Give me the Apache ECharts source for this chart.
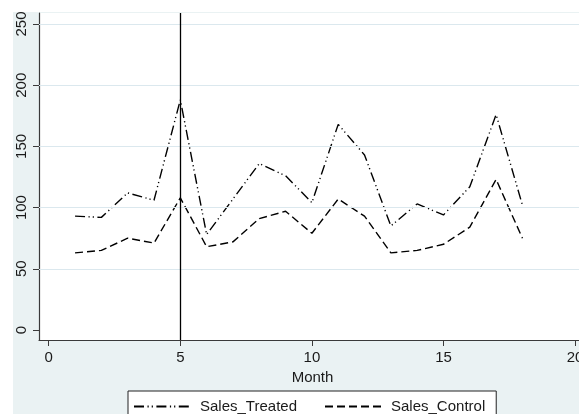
<!DOCTYPE html>
<html>
<head>
<meta charset="utf-8">
<script src="https://cdn.jsdelivr.net/npm/echarts@6/dist/echarts.min.js"></script>
<style>
  html, body { margin: 0; padding: 0; background: #ffffff; }
  #wrap { position: relative; width: 579px; height: 414px; overflow: hidden; background: #ffffff; }
  #chart { position: absolute; left: 13px; top: 12px; width: 566px; height: 402px; background: #eaf2f3; }
</style>
</head>
<body>
<div id="wrap"><div id="chart"></div></div>
<script>
// Monthly sales for the treated and control groups
const months = [1, 2, 3, 4, 5, 6, 7, 8, 9, 10, 11, 12, 13, 14, 15, 16, 17, 18];
const salesTreated = [93, 92, 112, 106, 188, 78, 107, 136, 126, 104, 168, 143, 85, 103, 94, 117, 176, 102];
const salesControl = [63, 65, 75, 71, 108, 68, 72, 91, 97, 79, 107, 93, 63, 65, 70, 84, 123, 75];
const xTicks = [0, 5, 10, 15, 20];
const yTicks = [0, 50, 100, 150, 200, 250];
const yGrid = [50, 100, 150, 200, 250];
const interventionMonth = 5;

const font = "'Liberation Sans', Arial, sans-serif";
const textColor = '#1a1a1a';
const axisColor = '#3a3a3a';

const pair = (xs, ys) => xs.map((x, i) => [x, ys[i]]);

const chart = echarts.init(document.getElementById('chart'), null, { renderer: 'canvas' });
chart.setOption({
  animation: false,
  backgroundColor: 'transparent',
  textStyle: { fontFamily: font },
  grid: {
    left: 26, top: 1, right: 0, bottom: 74,
    outerBoundsMode: 'none',
    containLabel: false,
    show: true, backgroundColor: '#ffffff', borderWidth: 0
  },
  xAxis: {
    type: 'value',
    min: -0.37, max: 20.15,
    name: 'Month',
    nameLocation: 'middle',
    nameGap: 25,
    nameTextStyle: { fontFamily: font, fontSize: 15, color: textColor, padding: [0, 0, 0, 7] },
    axisLine: { show: true, onZero: false, lineStyle: { color: axisColor, width: 1.2 } },
    axisTick: { show: true, inside: false, length: 6, customValues: xTicks, lineStyle: { color: axisColor, width: 1 } },
    axisLabel: { customValues: xTicks, margin: 10, fontFamily: font, fontSize: 15, color: textColor, showMinLabel: true, showMaxLabel: true, hideOverlap: false },
    splitLine: { show: false }
  },
  yAxis: {
    type: 'value',
    min: -8.2, max: 259,
    axisLine: { show: true, onZero: false, lineStyle: { color: axisColor, width: 1.2 } },
    axisTick: { show: true, inside: false, length: 6, customValues: yTicks, lineStyle: { color: axisColor, width: 1 } },
    axisLabel: { customValues: yTicks, rotate: 90, margin: 10, fontFamily: font, fontSize: 15, color: textColor, showMinLabel: true, showMaxLabel: true },
    splitLine: { show: false }
  },
  legend: {
    left: 115, top: 379,
    orient: 'horizontal',
    backgroundColor: '#ffffff',
    borderColor: '#222222',
    borderWidth: 1,
    borderRadius: 0,
    padding: [8, 11, 8, 5],
    itemWidth: 56,
    itemHeight: 14,
    itemGap: 27,
    itemStyle: { opacity: 0 },
    textStyle: { fontFamily: font, fontSize: 15, color: textColor, padding: [0, 0, 0, 5] },
    data: ['Sales_Treated', 'Sales_Control']
  },
  series: [
    {
      // light horizontal reference lines
      name: 'grid',
      type: 'line',
      data: [],
      silent: true,
      markLine: {
        silent: true,
        symbol: ['none', 'none'],
        label: { show: false },
        lineStyle: { color: '#dbe8ee', width: 1.2, type: 'solid' },
        data: yGrid.map(v => ({ yAxis: v }))
      }
    },
    {
      name: 'Sales_Treated',
      type: 'line',
      data: pair(months, salesTreated),
      showSymbol: false,
      symbol: 'circle',
      color: '#000000',
      lineStyle: { color: '#000000', width: 1.4, type: [10, 3.5, 1.2, 3, 1.2, 3.5] },
      z: 3
    },
    {
      name: 'Sales_Control',
      type: 'line',
      data: pair(months, salesControl),
      showSymbol: false,
      symbol: 'circle',
      color: '#000000',
      lineStyle: { color: '#000000', width: 1.4, type: [8, 4] },
      z: 3,
      markLine: {
        silent: true,
        symbol: ['none', 'none'],
        label: { show: false },
        lineStyle: { color: '#000000', width: 1.3, type: 'solid' },
        data: [{ xAxis: interventionMonth }]
      }
    }
  ]
});
</script>
</body>
</html>
